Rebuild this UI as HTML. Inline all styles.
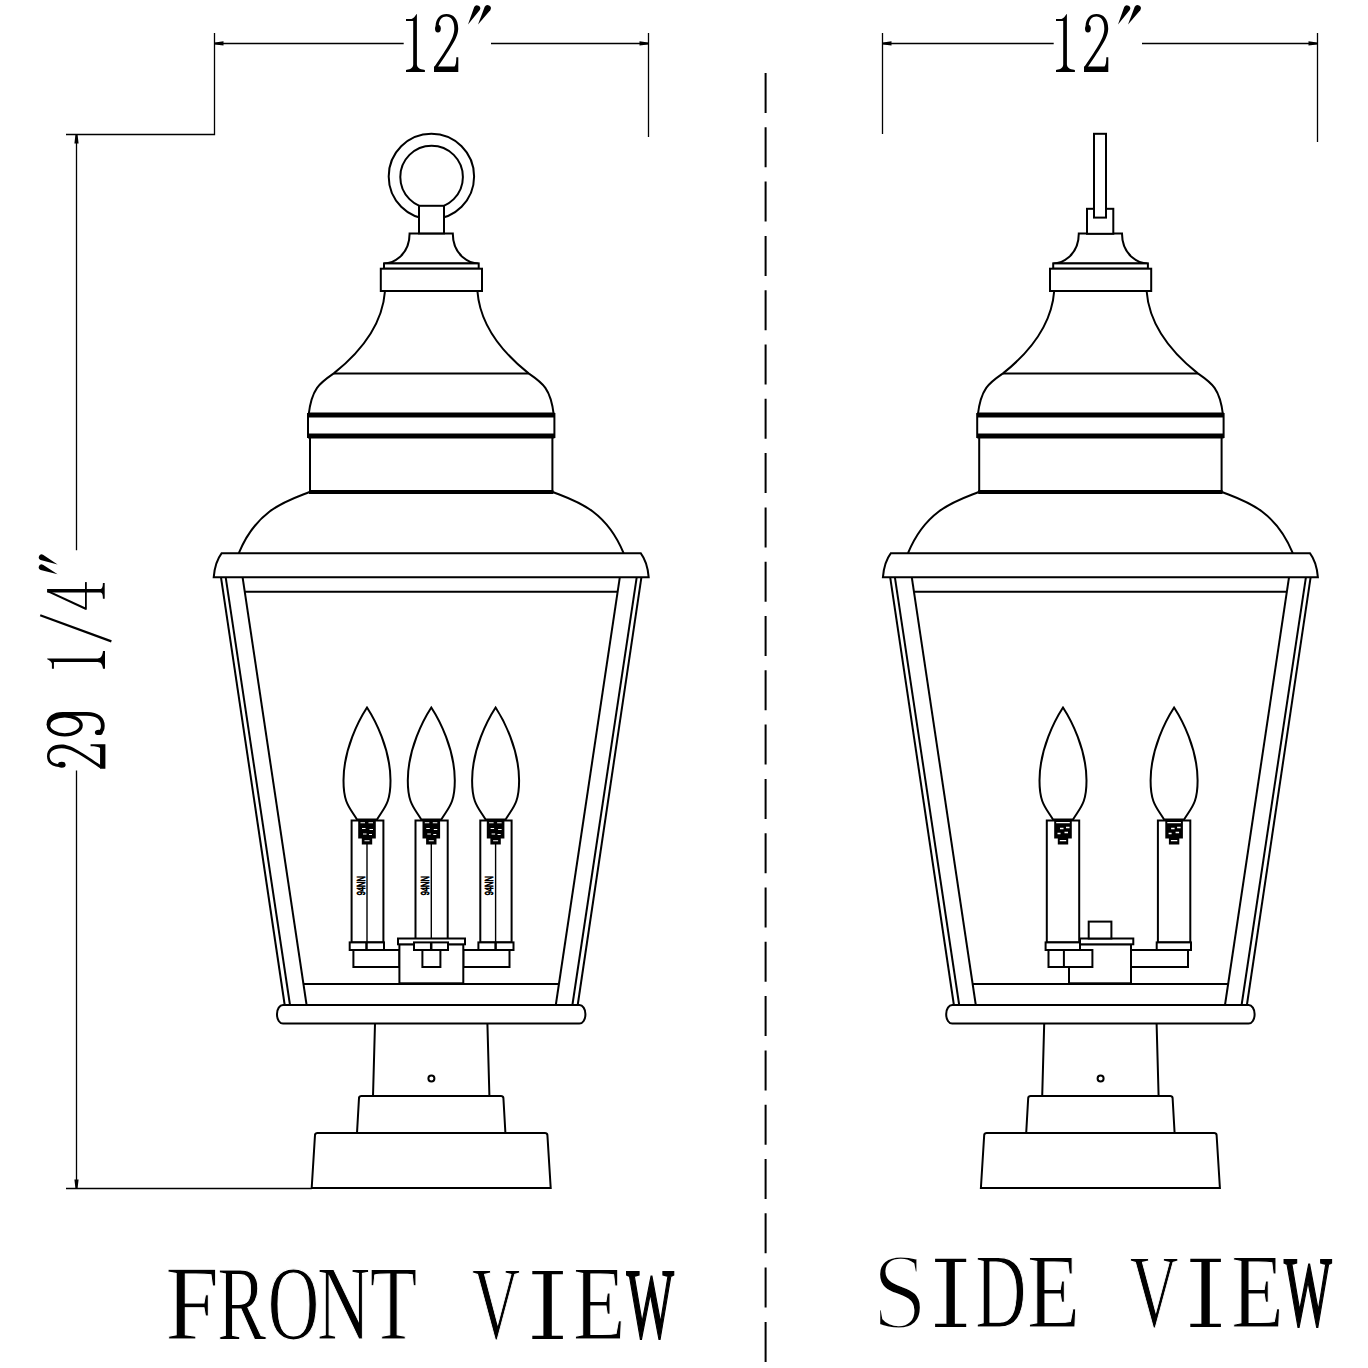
<!DOCTYPE html>
<html><head><meta charset="utf-8"><style>
html,body{margin:0;padding:0;background:#fff;width:1368px;height:1368px;overflow:hidden}
svg{display:block}
text{font-family:"Liberation Serif",serif;font-size:100px;fill:#000}
</style></head><body>
<svg width="1368" height="1368" viewBox="0 0 1368 1368">
<rect width="1368" height="1368" fill="#fff"/>
<g fill="none" stroke="#000" stroke-width="1.3">
<path d="M214.5 33 V134.5 H66 M648.5 33 V137 M214.5 43.5 H403.7 M491 43.5 H648.5"/>
<path d="M215 42.4 L223.5 41.3 L223.5 45.6 L215 44.6 Z M648 42.4 L639.5 41.3 L639.5 45.6 L648 44.6 Z" fill="#000" stroke="none"/>
<path d="M882.5 33 V134 M1317.5 33 V142 M882.5 43.5 H1053.7 M1142 43.5 H1317.5"/>
<path d="M883 42.4 L891.5 41.3 L891.5 45.6 L883 44.6 Z M1317 42.4 L1308.5 41.3 L1308.5 45.6 L1317 44.6 Z" fill="#000" stroke="none"/>
<path d="M76.5 134.5 V550.2 M76.5 770.4 V1188.5 M66 1188.5 H311.7"/>
<path d="M75.4 135 L74.4 143.5 L78.6 143.5 L77.6 135 Z M75.4 1188 L74.4 1179.5 L78.6 1179.5 L77.6 1188 Z" fill="#000" stroke="none"/>
</g>
<line x1="765.6" y1="73" x2="765.6" y2="1368" stroke="#000" stroke-width="2" stroke-dasharray="40 14.3"/>
<g id="body" fill="#fff" stroke="#000" stroke-width="2" stroke-linejoin="miter">
<path d="M409.6 233.4 L452.79999999999995 233.4 C452.71 256.29 470.4 263.5 478.4 263.5 L384 263.5 C392 263.5 409.69 256.29 409.6 233.4 Z"/>
<rect x="384" y="263.4" width="94.7" height="5.3"/>
<rect x="380.8" y="268.7" width="101.2" height="22.3"/>
<path d="M385 291 C382.03 330.55 352.77 358.29 333.8 373.4 C320.28 382.68 311.69 388.11 308.6 415"/>
<path d="M477.4 291 C480.37 330.55 509.63 358.29 528.5999999999999 373.4 C542.12 382.68 550.71 388.11 553.8 415"/>
<line x1="333.8" y1="373.4" x2="528.5999999999999" y2="373.4"/>
<rect x="308" y="414" width="246.39999999999998" height="23" stroke-width="2"/>
<line x1="308" y1="415" x2="554.4" y2="415" stroke-width="5"/>
<line x1="308" y1="436" x2="554.4" y2="436" stroke-width="5"/>
<path d="M310 438 L310 492 M552.4 438 L552.4 492"/>
<line x1="309" y1="492" x2="553.4" y2="492" stroke-width="4"/>
<path d="M309.5 492 C287.98 500.53 257 508.8 238.8 553.2 M552.9 492 C574.42 500.53 605.4 508.8 623.5999999999999 553.2"/>
<path d="M221.7 553.2 L640.7 553.2 Q647.4 562 648.7 577.3 L213.7 577.3 Q215 562 221.7 553.2 Z"/>
<line x1="221" y1="577.3" x2="284.7" y2="1005"/>
<line x1="641.4" y1="577.3" x2="577.7" y2="1005"/>
<line x1="225.7" y1="577.3" x2="290" y2="1005"/>
<line x1="636.7" y1="577.3" x2="572.4" y2="1005"/>
<line x1="242.6" y1="577.3" x2="306.6" y2="1005"/>
<line x1="619.8" y1="577.3" x2="555.8" y2="1005"/>
<line x1="244.8" y1="591.8" x2="617.5999999999999" y2="591.8"/>
<line x1="303.5" y1="984" x2="558.9" y2="984"/>
<rect x="277" y="1005" width="308.4" height="18.6" rx="6" ry="9"/>
<path d="M375 1023.6 L373 1096 M487.4 1023.6 L489.4 1096"/>
<path d="M357 1133 L359 1098 Q359.3 1096 361.5 1096 L500.9 1096 Q503.09999999999997 1096 503.4 1098 L505.4 1133"/>
<path d="M311.7 1188 L315 1135 Q315.3 1133 317.5 1133 L544.9 1133 Q547.0999999999999 1133 547.4 1135 L550.7 1188 Z"/>
<circle cx="431.4" cy="1078.4" r="3"/>
</g>
<g fill="#fff" stroke="#000" stroke-width="2">
<circle cx="431.4" cy="176.5" r="42.7"/>
<circle cx="431.6" cy="177" r="31.3"/>
<rect x="419" y="205.8" width="25" height="27.6" fill="#fff"/>
<path d="M367 707.5 C359.2 719.5 343.5 748.8 343.5 780.5 C343.5 803.5 349.7 807.5 357 819.5 L377 819.5 C384.3 807.5 390.5 803.5 390.5 780.5 C390.5 748.8 374.8 719.5 367 707.5 Z"/>
<rect x="351.6" y="820.5" width="31.799999999999955" height="121.9"/>
<rect x="358.2" y="819.5" width="17.6" height="19" fill="#000" stroke="none"/>
<rect x="361.8" y="838" width="10.4" height="6.5" fill="#000" stroke="none"/>
<path d="M360.5 822.8 h4.5 M368.5 822.8 h4.5 M362 828.5 h3.5 M369.5 829.5 h3.5 M363 834 h3.5 M369 834.5 h3 M364.5 840.8 h5" stroke="#fff" stroke-width="1.1"/>
<line x1="367" y1="844" x2="367" y2="942" stroke-width="1.4"/>
<path d="M431.3 707.5 C423.5 719.5 407.8 748.8 407.8 780.5 C407.8 803.5 414.0 807.5 421.3 819.5 L441.3 819.5 C448.6 807.5 454.8 803.5 454.8 780.5 C454.8 748.8 439.1 719.5 431.3 707.5 Z"/>
<rect x="415.5" y="820.5" width="32.19999999999999" height="121.9"/>
<rect x="422.5" y="819.5" width="17.6" height="19" fill="#000" stroke="none"/>
<rect x="426.1" y="838" width="10.4" height="6.5" fill="#000" stroke="none"/>
<path d="M424.8 822.8 h4.5 M432.8 822.8 h4.5 M426.3 828.5 h3.5 M433.8 829.5 h3.5 M427.3 834 h3.5 M433.3 834.5 h3 M428.8 840.8 h5" stroke="#fff" stroke-width="1.1"/>
<line x1="431.3" y1="844" x2="431.3" y2="942" stroke-width="1.4"/>
<path d="M495.6 707.5 C487.8 719.5 472.1 748.8 472.1 780.5 C472.1 803.5 478.3 807.5 485.6 819.5 L505.6 819.5 C512.9 807.5 519.1 803.5 519.1 780.5 C519.1 748.8 503.40000000000003 719.5 495.6 707.5 Z"/>
<rect x="480.3" y="820.5" width="31.30000000000001" height="121.9"/>
<rect x="486.8" y="819.5" width="17.6" height="19" fill="#000" stroke="none"/>
<rect x="490.40000000000003" y="838" width="10.4" height="6.5" fill="#000" stroke="none"/>
<path d="M489.1 822.8 h4.5 M497.1 822.8 h4.5 M490.6 828.5 h3.5 M498.1 829.5 h3.5 M491.6 834 h3.5 M497.6 834.5 h3 M493.1 840.8 h5" stroke="#fff" stroke-width="1.1"/>
<line x1="495.6" y1="844" x2="495.6" y2="942" stroke-width="1.4"/>
<rect x="353.4" y="950" width="46" height="17"/>
<rect x="463.3" y="950" width="46.2" height="17"/>
<rect x="399.4" y="944.3" width="63.9" height="39" fill="#fff"/>
<rect x="398" y="938.5" width="67" height="5.8" fill="#fff"/>
<rect x="422.4" y="950" width="18" height="17"/>
<rect x="349.7" y="942.4" width="34.30000000000001" height="7.6" fill="#fff"/>
<line x1="366.5" y1="942.4" x2="366.5" y2="950" stroke-width="2.5"/>
<rect x="414" y="942.4" width="34" height="7.6" fill="#fff"/>
<line x1="431.2" y1="942.4" x2="431.2" y2="950" stroke-width="2.5"/>
<rect x="478.4" y="942.4" width="35.10000000000002" height="7.6" fill="#fff"/>
<line x1="495.6" y1="942.4" x2="495.6" y2="950" stroke-width="2.5"/>
<text fill="#000" stroke="#000" stroke-width="7" transform="matrix(0 -0.0757 0.1127 0 364.89 895.34)" style='font-family:"Liberation Sans",sans-serif'>94NN</text>
<text fill="#000" stroke="#000" stroke-width="7" transform="matrix(0 -0.0757 0.1127 0 429.19 895.34)" style='font-family:"Liberation Sans",sans-serif'>94NN</text>
<text fill="#000" stroke="#000" stroke-width="7" transform="matrix(0 -0.0757 0.1127 0 493.49 895.34)" style='font-family:"Liberation Sans",sans-serif'>94NN</text>
</g>
<use href="#body" transform="translate(669.2 0)"/>
<g fill="#fff" stroke="#000" stroke-width="2">
<rect x="1087" y="208.8" width="26.3" height="25"/>
<rect x="1094" y="133.8" width="12" height="83.8" fill="#fff"/>
<path d="M1063 707.5 C1055.2 719.5 1039.5 748.8 1039.5 780.5 C1039.5 803.5 1045.7 807.5 1053 819.5 L1073 819.5 C1080.3 807.5 1086.5 803.5 1086.5 780.5 C1086.5 748.8 1070.8 719.5 1063 707.5 Z"/>
<rect x="1046.8" y="820.5" width="32.40000000000009" height="121.9"/>
<rect x="1054.2" y="819.5" width="17.6" height="19" fill="#000" stroke="none"/>
<rect x="1057.8" y="838" width="10.4" height="6.5" fill="#000" stroke="none"/>
<path d="M1056.2 822.6 h13.6 M1060 828.5 h3.5 M1066 827.5 h3.5 M1057.5 833.5 h3 M1064.5 832.5 h3.5 M1059.8 840.6 h6.4" stroke="#fff" stroke-width="1.3"/>
<path d="M1174.1 707.5 C1166.3 719.5 1150.6 748.8 1150.6 780.5 C1150.6 803.5 1156.8 807.5 1164.1 819.5 L1184.1 819.5 C1191.3999999999999 807.5 1197.6 803.5 1197.6 780.5 C1197.6 748.8 1181.8999999999999 719.5 1174.1 707.5 Z"/>
<rect x="1157.9" y="820.5" width="32.399999999999864" height="121.9"/>
<rect x="1165.3" y="819.5" width="17.6" height="19" fill="#000" stroke="none"/>
<rect x="1168.8999999999999" y="838" width="10.4" height="6.5" fill="#000" stroke="none"/>
<path d="M1167.3 822.6 h13.6 M1171.1 828.5 h3.5 M1177.1 827.5 h3.5 M1168.6 833.5 h3 M1175.6 832.5 h3.5 M1170.8999999999999 840.6 h6.4" stroke="#fff" stroke-width="1.3"/>
<rect x="1069" y="944.3" width="62" height="39"/>
<rect x="1131" y="950" width="57" height="17" fill="#fff"/>
<rect x="1080" y="938.5" width="53.3" height="5.8" fill="#fff"/>
<rect x="1088.7" y="921.6" width="22.7" height="16.9" fill="#fff"/>
<rect x="1048.5" y="950" width="43.9" height="17" fill="#fff"/>
<line x1="1063.9" y1="950" x2="1063.9" y2="967"/>
<rect x="1045.6" y="942.4" width="34.4" height="7.6" fill="#fff"/>
<rect x="1156.7" y="942.4" width="34.3" height="7.6" fill="#fff"/>
</g>
<g>
<g transform="matrix(1.0000 0 0 1.0000 406.00 14.00)" fill="#000"><path d="M10.4 0 L10.9 0.6 L10.9 50.5 C11.2 53.5 13 55.2 18.9 55.9 L18.9 57.9 L0 57.9 L0 55.9 C5.5 55.2 7 53.5 7.2 50.5 L7.2 7 L0 7 L0 5 L5.5 5 C7.5 4.5 9 2.5 10.4 0 Z"/></g>
<g transform="matrix(1.0000 0 0 1.0000 434.00 14.00)" fill="#000"><path d="M1.6 12 C2 4.5 6 0 12.5 0 C19.5 0 24.2 5 24.2 14.5 C24.2 23 18 32 3.8 53 L0.3 53 C14.5 32 20.3 23.5 20.3 14.5 C20.3 6 16.5 2.6 12.5 2.6 C8 2.6 5.2 6 4.8 11 Z"/><ellipse cx="3.9" cy="14.6" rx="2.9" ry="3.9"/><path d="M0 52.6 L20.5 52.6 C21.8 51.3 22.3 48 22.3 43.2 L24.3 43.2 L24.3 57.9 L0 57.9 Z"/></g>
<path d="M474.21 6.93 A3.2 3.2 0 1 1 479.79 10.07 L468.00 24.50 Z" fill="#000" stroke="none"/>
<path d="M484.75 6.87 A3.2 3.2 0 1 1 490.25 10.13 L478.00 24.50 Z" fill="#000" stroke="none"/>
<g transform="matrix(1.0000 0 0 1.0000 1056.00 14.00)" fill="#000"><path d="M10.4 0 L10.9 0.6 L10.9 50.5 C11.2 53.5 13 55.2 18.9 55.9 L18.9 57.9 L0 57.9 L0 55.9 C5.5 55.2 7 53.5 7.2 50.5 L7.2 7 L0 7 L0 5 L5.5 5 C7.5 4.5 9 2.5 10.4 0 Z"/></g>
<g transform="matrix(1.0000 0 0 1.0000 1084.00 14.00)" fill="#000"><path d="M1.6 12 C2 4.5 6 0 12.5 0 C19.5 0 24.2 5 24.2 14.5 C24.2 23 18 32 3.8 53 L0.3 53 C14.5 32 20.3 23.5 20.3 14.5 C20.3 6 16.5 2.6 12.5 2.6 C8 2.6 5.2 6 4.8 11 Z"/><ellipse cx="3.9" cy="14.6" rx="2.9" ry="3.9"/><path d="M0 52.6 L20.5 52.6 C21.8 51.3 22.3 48 22.3 43.2 L24.3 43.2 L24.3 57.9 L0 57.9 Z"/></g>
<path d="M1124.21 6.93 A3.2 3.2 0 1 1 1129.79 10.07 L1118.00 24.50 Z" fill="#000" stroke="none"/>
<path d="M1134.75 6.87 A3.2 3.2 0 1 1 1140.25 10.13 L1128.00 24.50 Z" fill="#000" stroke="none"/>
<g transform="matrix(0 -1.0041 1.0086 0 47.00 768.70)" fill="#000"><path d="M1.6 12 C2 4.5 6 0 12.5 0 C19.5 0 24.2 5 24.2 14.5 C24.2 23 18 32 3.8 53 L0.3 53 C14.5 32 20.3 23.5 20.3 14.5 C20.3 6 16.5 2.6 12.5 2.6 C8 2.6 5.2 6 4.8 11 Z"/><ellipse cx="3.9" cy="14.6" rx="2.9" ry="3.9"/><path d="M0 52.6 L20.5 52.6 C21.8 51.3 22.3 48 22.3 43.2 L24.3 43.2 L24.3 57.9 L0 57.9 Z"/></g>
<g transform="matrix(0 -1.0000 1.0000 0 46.80 736.80)" fill="#000"><ellipse cx="11.5" cy="18" rx="9.6" ry="16.3" fill="none" stroke="#000" stroke-width="3.4"/><path d="M11.5 1.6 C19 1.6 23 7 23 16 L23 40 C23 51 18 56 11 56 C8 56 5.5 55 4.5 53" fill="none" stroke="#000" stroke-width="3.8"/><ellipse cx="4.4" cy="52" rx="2.7" ry="3.9"/></g>
<g transform="matrix(0 -0.9418 1.0035 0 46.90 668.80)" fill="#000"><path d="M10.4 0 L10.9 0.6 L10.9 50.5 C11.2 53.5 13 55.2 18.9 55.9 L18.9 57.9 L0 57.9 L0 55.9 C5.5 55.2 7 53.5 7.2 50.5 L7.2 7 L0 7 L0 5 L5.5 5 C7.5 4.5 9 2.5 10.4 0 Z"/></g>
<line x1="40.2" y1="615.3" x2="111.4" y2="641.4" stroke="#000" stroke-width="2.2"/>
<g transform="matrix(0 -1.0000 1.0000 0 47.10 609.70)" fill="#000"><path d="M17.1 0 L20.7 0 L20.7 53.5 C21 55 23 55.8 26.8 55.8 L26.8 57.6 L11 57.6 L11 55.8 C15 55.8 17.1 55 17.1 53.5 Z"/><rect x="0" y="37.9" width="27.6" height="1.8"/><path d="M18.6 0.6 L0.9 38.6" fill="none" stroke="#000" stroke-width="2.1"/></g>
<path d="M40.58 559.93 A2.9 2.9 0 1 1 43.02 554.67 L57.60 564.60 Z" fill="#000" stroke="none"/>
<path d="M40.63 569.95 A2.9 2.9 0 1 1 42.97 564.65 L57.60 574.30 Z" fill="#000" stroke="none"/>
<text transform="matrix(0.9694 0 0 1.0519 165.19 1339.40)" stroke="#fff" stroke-width="0.989">F</text>
<text transform="matrix(0.7339 0 0 1.0519 217.20 1339.40)" stroke="#fff" stroke-width="1.120">R</text>
<text transform="matrix(0.7125 0 0 1.0582 267.85 1339.24)" stroke="#fff" stroke-width="1.129">O</text>
<text transform="matrix(0.7373 0 0 1.0519 316.89 1339.40)" stroke="#fff" stroke-width="1.118">N</text>
<text transform="matrix(0.7774 0 0 1.0519 369.85 1339.40)" stroke="#fff" stroke-width="1.093">T</text>
<text transform="matrix(0.6671 0 0 1.0284 471.93 1337.86)" stroke="#fff" stroke-width="1.180">V</text>
<path d="M532.3 1271 H562.9 V1274.2 H551.8 V1335.7 H562.9 V1338.9 H532.3 V1335.7 H543.3999999999999 V1274.2 H532.3 Z" fill="#000"/>
<text transform="matrix(0.8604 0 0 1.0519 572.92 1339.40)" stroke="#fff" stroke-width="1.046">E</text>
<text transform="matrix(0.5021 0 0 0.9896 626.40 1336.62)" stroke="#000" stroke-width="2.145">W</text>
<text transform="matrix(0.9977 0 0 1.0896 872.02 1328.41)" stroke="#fff" stroke-width="2.875">S</text>
<path d="M935.1 1258.8 H966.2 V1262.0 H954.8500000000001 V1323.7 H966.2 V1326.9 H935.1 V1323.7 H946.45 V1262.0 H935.1 Z" fill="#000"/>
<text transform="matrix(0.7077 0 0 1.0550 975.18 1327.40)" stroke="#fff" stroke-width="1.135">D</text>
<text transform="matrix(0.8679 0 0 1.0550 1026.90 1327.40)" stroke="#fff" stroke-width="1.040">E</text>
<text transform="matrix(0.6757 0 0 1.0313 1129.72 1325.85)" stroke="#fff" stroke-width="1.172">V</text>
<path d="M1190.3 1258.8 H1220.9 V1262.0 H1209.8 V1323.7 H1220.9 V1326.9 H1190.3 V1323.7 H1201.3999999999999 V1262.0 H1190.3 Z" fill="#000"/>
<text transform="matrix(0.8604 0 0 1.0550 1231.22 1327.40)" stroke="#fff" stroke-width="1.044">E</text>
<text transform="matrix(0.5053 0 0 0.9925 1283.90 1324.61)" stroke="#000" stroke-width="2.136">W</text>
</g>
</svg>
</body></html>
